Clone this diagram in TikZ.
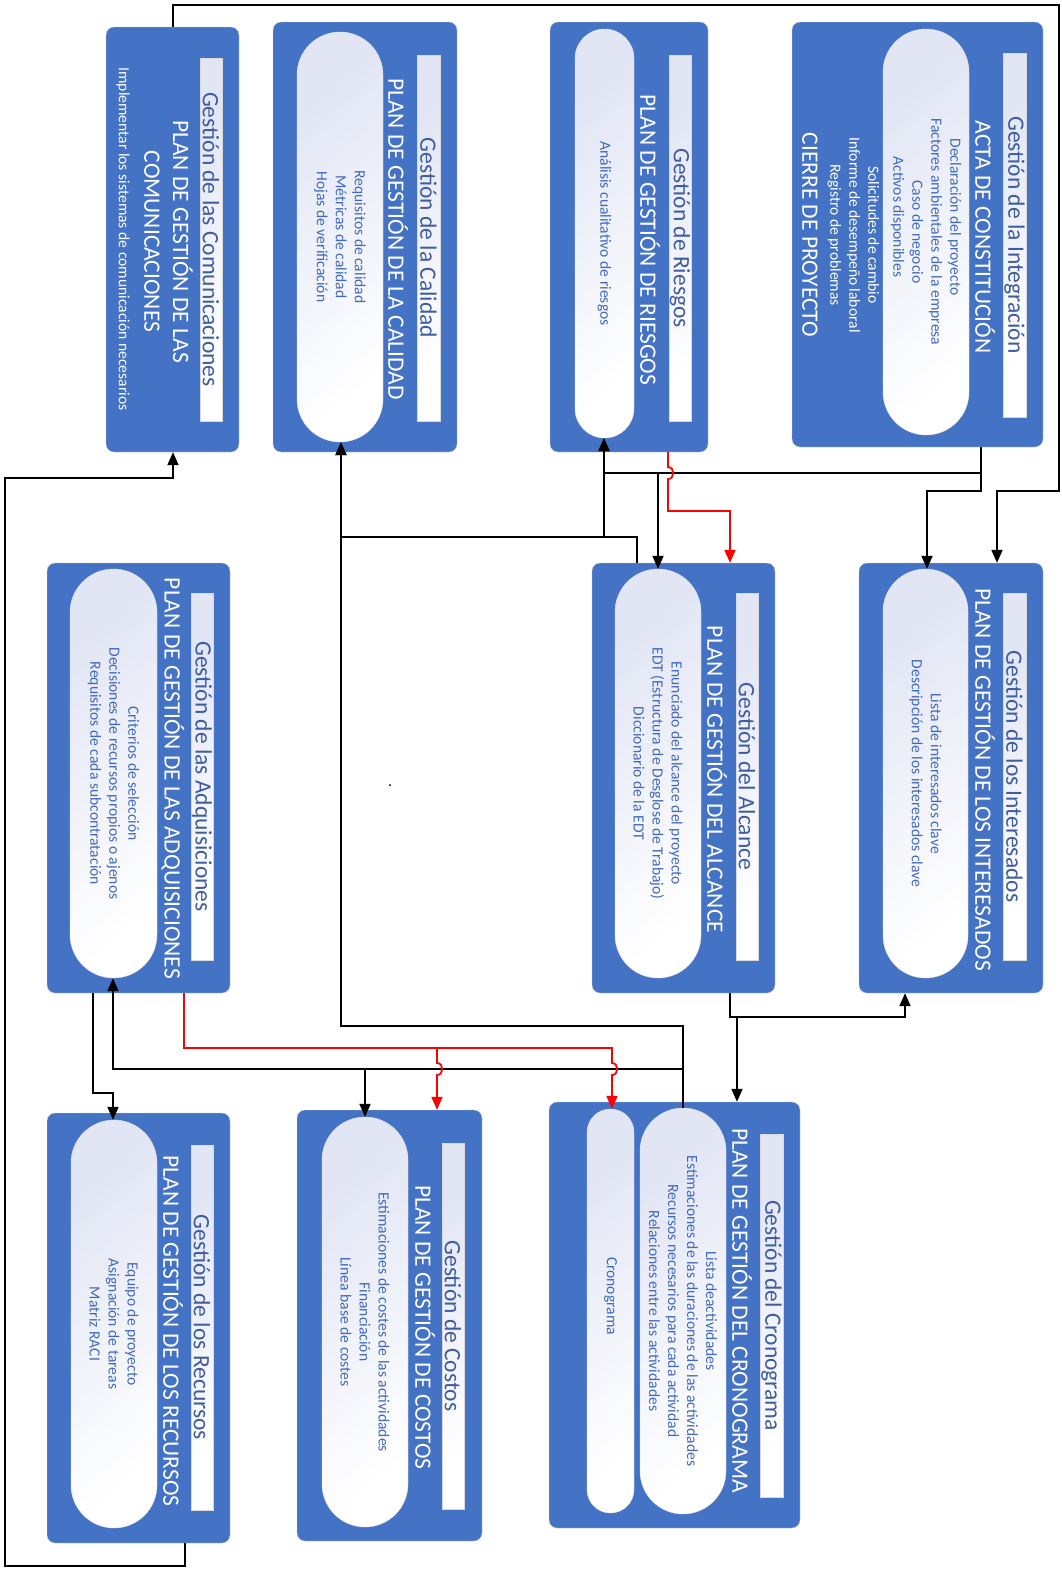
\documentclass[tikz,border=0pt]{standalone}
\usepackage{fontspec}
\setmainfont{Carlito}
\usepackage{tikz}
\usetikzlibrary{arrows.meta,shapes.misc}
\definecolor{pmblue}{HTML}{4472C4}
\definecolor{pmtitle}{HTML}{3E5C9E}
\definecolor{pmtext}{HTML}{4169BD}
\definecolor{pmlav}{HTML}{E1E5F4}
\newcommand{\pmbig}{\fontsize{23.5}{28.7}\selectfont}
\newcommand{\pmsmall}{\fontsize{15.6}{19}\selectfont}
\tikzset{
  pmbox/.style={draw=black!20, fill=pmblue, rounded corners=8pt},
  pmbar/.style={draw=black!15, rotate=-90, top color=pmlav, bottom color=white, shading angle=40, inner sep=0pt, font=\pmbig, text=pmtitle},
  pmpill/.style={rounded rectangle, draw=black!10, rotate=-90, top color=pmlav, bottom color=white, shading angle=40, font=\pmsmall, text=pmtext, align=center, inner sep=0pt},
  pmplan/.style={rotate=-90, font=\pmbig, text=white, align=center},
  pmlist/.style={rotate=-90, font=\pmsmall, text=white, align=center},
  pmline/.style={line width=1.8pt},
  pmarrow/.style={pmline, -{Triangle[length=13pt,width=11pt]}},
  pmred/.style={pmarrow, red},
}

\begin{document}
\begin{tikzpicture}[x=1pt, y=-1pt]
  \useasboundingbox (0,0) rectangle (1061,1569);

  \node[pmbox, minimum width=251pt, minimum height=425pt] (integ) at (917.5,234.5) {};
  \node[pmbar, minimum width=364pt, minimum height=23pt] (integ-t) at (1014.5,235) {Gestión de la Integración};
  \node[pmplan] (integ-a) at (985,237) {ACTA DE CONSTITUCIÓN};
  \node[pmpill, minimum width=406pt, minimum height=86pt] (integ-p) at (926,232) {Declaración del proyecto\hspace*{30pt}\\Factores ambientales de la empresa\hspace*{30pt}\\Caso de negocio\hspace*{30pt}\\Activos disponibles\hspace*{30pt}};
  \node[pmlist] (integ-l) at (853.5,235) {Solicitudes de cambio\\Informe de desempeño laboral\\Registro de problemas};
  \node[pmplan] (integ-c) at (810,235) {CIERRE DE PROYECTO};

  \node[pmbox, minimum width=158pt, minimum height=430pt] (riesg) at (629,237) {};
  \node[pmbar, minimum width=366pt, minimum height=22pt] (riesg-t) at (680,238) {Gestión de Riesgos};
  \node[pmplan] (riesg-a) at (650,240) {PLAN DE GESTIÓN DE RIESGOS};
  \node[pmpill, minimum width=409pt, minimum height=59pt] (riesg-p) at (604.5,233.5) {Análisis cualitativo de riesgos};

  \node[pmbox, minimum width=184pt, minimum height=430pt] (cali) at (365,237) {};
  \node[pmbar, minimum width=366pt, minimum height=23pt] (cali-t) at (428.5,238) {Gestión de la Calidad};
  \node[pmplan] (cali-a) at (398,239) {PLAN DE GESTIÓN DE LA CALIDAD};
  \node[pmpill, minimum width=410pt, minimum height=86pt] (cali-p) at (340,237) {Requisitos de calidad\\Métricas de calidad\\Hojas de verificación};

  \node[pmbox, minimum width=133pt, minimum height=425pt] (comu) at (172.5,239.5) {};
  \node[pmbar, minimum width=363pt, minimum height=22pt] (comu-t) at (211,239.5) {Gestión de las Comunicaciones};
  \node[pmplan] (comu-a) at (168.5,241.5) {PLAN DE GESTIÓN DE LAS\\COMUNICACIONES};
  \node[pmlist] (comu-l) at (123,239) {Implementar los sistemas de comunicación necesarios};

  \node[pmbox, minimum width=184pt, minimum height=430pt] (inter) at (951,778) {};
  \node[pmbar, minimum width=367pt, minimum height=23pt] (inter-t) at (1014.5,776.5) {Gestión de los Interesados};
  \node[pmplan] (inter-a) at (985,779.5) {PLAN DE GESTIÓN DE LOS INTERESADOS};
  \node[pmpill, minimum width=409pt, minimum height=85pt] (inter-p) at (925.5,773.5) {Lista de interesados clave\\Descripción de los interesados clave};

  \node[pmbox, minimum width=183pt, minimum height=430pt] (alca) at (683.5,778) {};
  \node[pmbar, minimum width=367pt, minimum height=22pt] (alca-t) at (747,776.5) {Gestión del Alcance};
  \node[pmplan] (alca-a) at (717,779.5) {PLAN DE GESTIÓN DEL ALCANCE};
  \node[pmpill, minimum width=409pt, minimum height=86pt] (alca-p) at (658,773.5) {Enunciado del alcance del proyecto\\EDT (Estructura de Desglose de Trabajo)\\Diccionario de la EDT};

  \node[pmbox, minimum width=183pt, minimum height=430pt] (adq) at (138.5,778) {};
  \node[pmbar, minimum width=367pt, minimum height=22pt] (adq-t) at (202,776.5) {Gestión de las Adquisiciones};
  \node[pmplan] (adq-a) at (173,778.5) {PLAN DE GESTIÓN DE LAS ADQUISICIONES};
  \node[pmpill, minimum width=409pt, minimum height=87pt] (adq-p) at (113.5,773.5) {Criterios de selección\\Decisiones de recursos propios o ajenos\\Requisitos de cada subcontratación};

  \node[pmbox, minimum width=251pt, minimum height=426pt] (cron) at (674.5,1315) {};
  \node[pmbar, minimum width=363pt, minimum height=23pt] (cron-t) at (771.5,1315.5) {Gestión del Cronograma};
  \node[pmplan] (cron-a) at (742,1310.5) {PLAN DE GESTIÓN DEL CRONOGRAMA};
  \node[pmpill, minimum width=406pt, minimum height=86pt] (cron-p) at (683,1311) {Lista deactividades\\Estimaciones de las duraciones de las actividades\\Recursos necesarios para cada actividad\\Relaciones entre las actividades};
  \node[pmpill, minimum width=404pt, minimum height=47pt] (cron-q) at (610.5,1311) {Cronograma\hspace*{30pt}};

  \node[pmbox, minimum width=185pt, minimum height=431pt] (cost) at (389.5,1325.5) {};
  \node[pmbar, minimum width=366pt, minimum height=22pt] (cost-t) at (453,1326) {Gestión de Costos};
  \node[pmplan] (cost-a) at (425,1327.5) {PLAN DE GESTIÓN DE COSTOS};
  \node[pmpill, minimum width=410pt, minimum height=86pt] (cost-p) at (365,1322) {Estimaciones de costes de las actividades\\Financiación\\Línea base de costes};

  \node[pmbox, minimum width=183pt, minimum height=430pt] (recu) at (138.5,1328) {};
  \node[pmbar, minimum width=365pt, minimum height=22pt] (recu-t) at (202,1327.5) {Gestión de los Recursos};
  \node[pmplan] (recu-a) at (173,1331) {PLAN DE GESTIÓN DE LOS RECURSOS};
  \node[pmpill, minimum width=408pt, minimum height=86pt] (recu-p) at (114,1324) {Equipo de proyecto\\Asignación de tareas\\Matriz RACI};

  \node[font=\pmsmall, inner sep=0pt] (punto) at (390,786) {.};

  \draw[pmarrow] (981,0 |- integ.south) |- (927,491) -- (927,0 |- inter-p.west);
  \draw[pmarrow] (981,0 |- integ.south) |- (658,473) -- (658,0 |- alca-p.west);
  \draw[pmarrow] (658,473) -| (604,0 |- riesg-p.east);
  \draw[pmarrow] (637,0 |- alca.north) -- (637,537) -| (604,0 |- riesg-p.east);
  \draw[pmarrow] (637,0 |- alca.north) -- (637,537) -| (341,0 |- cali-p.east);
  \draw[pmarrow] (683,0 |- cron-p.west) -- (683,1026) -| (341,0 |- cali-p.east);
  \draw[pmarrow] (683,0 |- cron-p.west) -- (683,1069) -| (113,0 |- adq-p.east);
  \draw[pmarrow] (683,1069) -| (365,0 |- cost-p.west);
  \draw[pmarrow] (93,0 |- adq.south) -- (93,1093) -| (113,0 |- recu-p.west);
  \draw[pmarrow] (730,0 |- alca.south) |- (737,1017) -- (737,0 |- cron.north);
  \draw[pmarrow] (730,0 |- alca.south) |- (905,1017) -- (905,0 |- inter.south);
  \draw[pmarrow] (173,0 |- comu.north) -- (173,5) -- (1059,5) -- (1059,491) -| (997,0 |- inter.north);
  \draw[pmarrow] (185,0 |- recu.south) -- (185,1566) -- (5,1566) -- (5,478) -| (173,0 |- comu.south);
  \draw[pmred] (668,0 |- riesg.south) -- (668,467) .. controls (675,467) and (675,479) .. (668,479) -- (668,511) -| (730,0 |- alca.north);
  \draw[pmred] (184,0 |- adq.south) |- (437,1048) -- (437,1063) .. controls (444,1063) and (444,1075) .. (437,1075) -- (437,0 |- cost.north);
  \draw[pmred] (437,1048) -- (612,1048) -- (612,1063) .. controls (619,1063) and (619,1075) .. (612,1075) -- (612,0 |- cron-q.west);
\end{tikzpicture}
\end{document}
